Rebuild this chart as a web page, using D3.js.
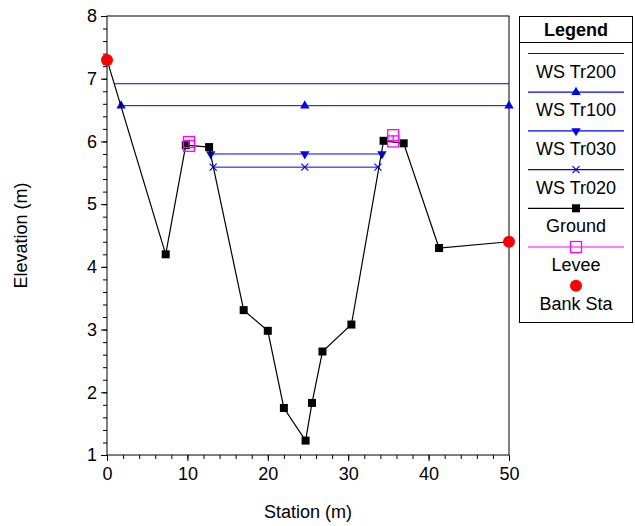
<!DOCTYPE html>
<html><head><meta charset="utf-8">
<script src="https://cdn.jsdelivr.net/npm/d3@7"></script>
<style>body{margin:0;background:#fff}svg{display:block}text{font-family:"Liberation Sans",Arial,Helvetica,sans-serif}</style>
</head><body><svg id="c" width="635" height="526"></svg>
<script>
// ---- data ----
const ground = [[0,7.3],[7.3,4.2],[9.8,5.94],[12.7,5.91],[17.0,3.31],[20.0,2.98],[22.0,1.75],[24.7,1.23],[25.5,1.83],[26.8,2.65],[30.4,3.08],[34.4,6.01],[36.9,5.97],[41.3,4.3],[50,4.4]];
const wsTr200 = [[0.9,6.92],[50,6.92]];
const wsTr100 = [[1.75,6.57],[24.6,6.57],[50,6.57]];
const wsTr030 = [[12.9,5.8],[24.6,5.8],[34.2,5.8]];
const wsTr020 = [[13.2,5.59],[24.6,5.59],[33.7,5.59]];
const leveeLeft = [[10.2,5.93],[10.2,5.99]];
const leveeRight = [[35.6,6.0],[35.6,6.1]];
const bankSta = [[0,7.3],[50,4.4]];
const xTicks = [0,10,20,30,40,50];
const yTicks = [1,2,3,4,5,6,7,8];
const legendLabels = ["WS Tr200","WS Tr100","WS Tr030","WS Tr020","Ground","Levee","Bank Sta"];

const svg = d3.select("#c");
const L=107,R=509,T=16,B=455;
const x = d3.scaleLinear().domain([0,50]).range([L,R]);
const y = d3.scaleLinear().domain([1,8]).range([B,T]);
const FS = 18;
const blue="#0000ff";
const fmt = d3.format("d");

// axes
const xMinor = d3.range(0,50.01,2);
const yMinor = d3.range(1,8.01,0.2);
svg.append("g").attr("transform",`translate(0,${B})`)
  .call(d3.axisBottom(x).tickValues(xMinor).tickSize(4).tickFormat("").tickSizeOuter(0))
  .call(g=>g.select(".domain").remove());
svg.append("g").attr("transform",`translate(0,${B})`)
  .call(d3.axisBottom(x).tickValues(xTicks).tickFormat(fmt).tickSize(6).tickPadding(6).tickSizeOuter(0))
  .call(g=>g.select(".domain").remove())
  .call(g=>g.selectAll("text").attr("font-size",FS).attr("font-family",null).attr("fill","#000"));
svg.append("g").attr("transform",`translate(${L},0)`)
  .call(d3.axisLeft(y).tickValues(yMinor).tickSize(4).tickFormat("").tickSizeOuter(0))
  .call(g=>g.select(".domain").remove());
svg.append("g").attr("transform",`translate(${L},0)`)
  .call(d3.axisLeft(y).tickValues(yTicks).tickFormat(fmt).tickSize(6).tickPadding(4).tickSizeOuter(0))
  .call(g=>g.select(".domain").remove())
  .call(g=>g.selectAll("text").attr("font-size",FS).attr("font-family",null).attr("fill","#000"));
svg.append("rect").attr("x",L).attr("y",T).attr("width",R-L).attr("height",B-T)
  .attr("fill","none").attr("stroke","#000").attr("stroke-width",1);

svg.append("text").attr("x",(L+R)/2).attr("y",518).attr("text-anchor","middle").attr("font-size",FS).text("Station (m)");
svg.append("text").attr("transform",`translate(27,${(T+B)/2}) rotate(-90)`).attr("text-anchor","middle").attr("font-size",FS).text("Elevation (m)");

const line = d3.line().x(d=>x(d[0])).y(d=>y(d[1]));
function drawLine(data,color,w){svg.append("path").datum(data).attr("d",line).attr("fill","none").attr("stroke",color).attr("stroke-width",w);}

function marker(g,type,cx,cy){
  if(type==="up"){g.append("path").attr("d",d3.symbol().type(d3.symbolTriangle).size(38)()).attr("transform",`translate(${cx},${cy})`).attr("fill",blue);}
  else if(type==="down"){g.append("path").attr("d",d3.symbol().type(d3.symbolTriangle).size(38)()).attr("transform",`translate(${cx},${cy}) rotate(180)`).attr("fill",blue);}
  else if(type==="x"){g.append("path").attr("d",`M${cx-3.5},${cy-3.5}L${cx+3.5},${cy+3.5}M${cx-3.5},${cy+3.5}L${cx+3.5},${cy-3.5}`).attr("stroke",blue).attr("stroke-width",1.2);}
  else if(type==="sq"){g.append("rect").attr("x",cx-4).attr("y",cy-4).attr("width",8).attr("height",8).attr("fill","#000");}
  else if(type==="lev"){g.append("rect").attr("x",cx-5.5).attr("y",cy-5.5).attr("width",11).attr("height",11).attr("fill","none").attr("stroke","#ff00ff").attr("stroke-width",1.3);}
  else if(type==="dot"){g.append("circle").attr("cx",cx).attr("cy",cy).attr("r",6).attr("fill","#ff0000");}
}
const gm = svg.append("g");

drawLine(wsTr200,blue,1);
drawLine(wsTr100,blue,1);
wsTr100.forEach(d=>marker(gm,"up",x(d[0]),y(d[1])));
drawLine(wsTr030,blue,1);
wsTr030.forEach(d=>marker(gm,"down",x(d[0]),y(d[1])));
drawLine(wsTr020,blue,1);
wsTr020.forEach(d=>marker(gm,"x",x(d[0]),y(d[1])));
drawLine(ground,"#000",1.2);
const gg = svg.append("g");
ground.forEach(d=>marker(gg,"sq",x(d[0]),y(d[1])));
const gl = svg.append("g");
[leveeLeft,leveeRight].forEach(lv=>{drawLine(lv,"#ff00ff",1.3);lv.forEach(d=>marker(gl,"lev",x(d[0]),y(d[1])));});
const gb = svg.append("g");
bankSta.forEach(d=>marker(gb,"dot",x(d[0]),y(d[1])));

// legend
const lg = svg.append("g");
lg.append("rect").attr("x",519.5).attr("y",16.5).attr("width",113).attr("height",306).attr("fill","#fff").attr("stroke","#000");
lg.append("line").attr("x1",519.5).attr("x2",632.5).attr("y1",42.5).attr("y2",42.5).attr("stroke","#000");
lg.append("text").attr("x",576).attr("y",36).attr("text-anchor","middle").attr("font-size",FS).attr("font-weight","bold").text("Legend");
const types=[["none",blue],["up",blue],["down",blue],["x",blue],["sq","#000"],["lev","#ff00ff"],["dot",null]];
legendLabels.forEach((lab,i)=>{
  const ly = 53.5 + i*38.7;
  const [t,c] = types[i];
  if(c) lg.append("line").attr("x1",528).attr("x2",624).attr("y1",ly).attr("y2",ly).attr("stroke",c).attr("stroke-width",1.2);
  if(t!=="none") marker(lg,t,576,ly);
  lg.append("text").attr("x",576).attr("y",ly+24).attr("text-anchor","middle").attr("font-size",FS).text(lab);
});
</script></body></html>
